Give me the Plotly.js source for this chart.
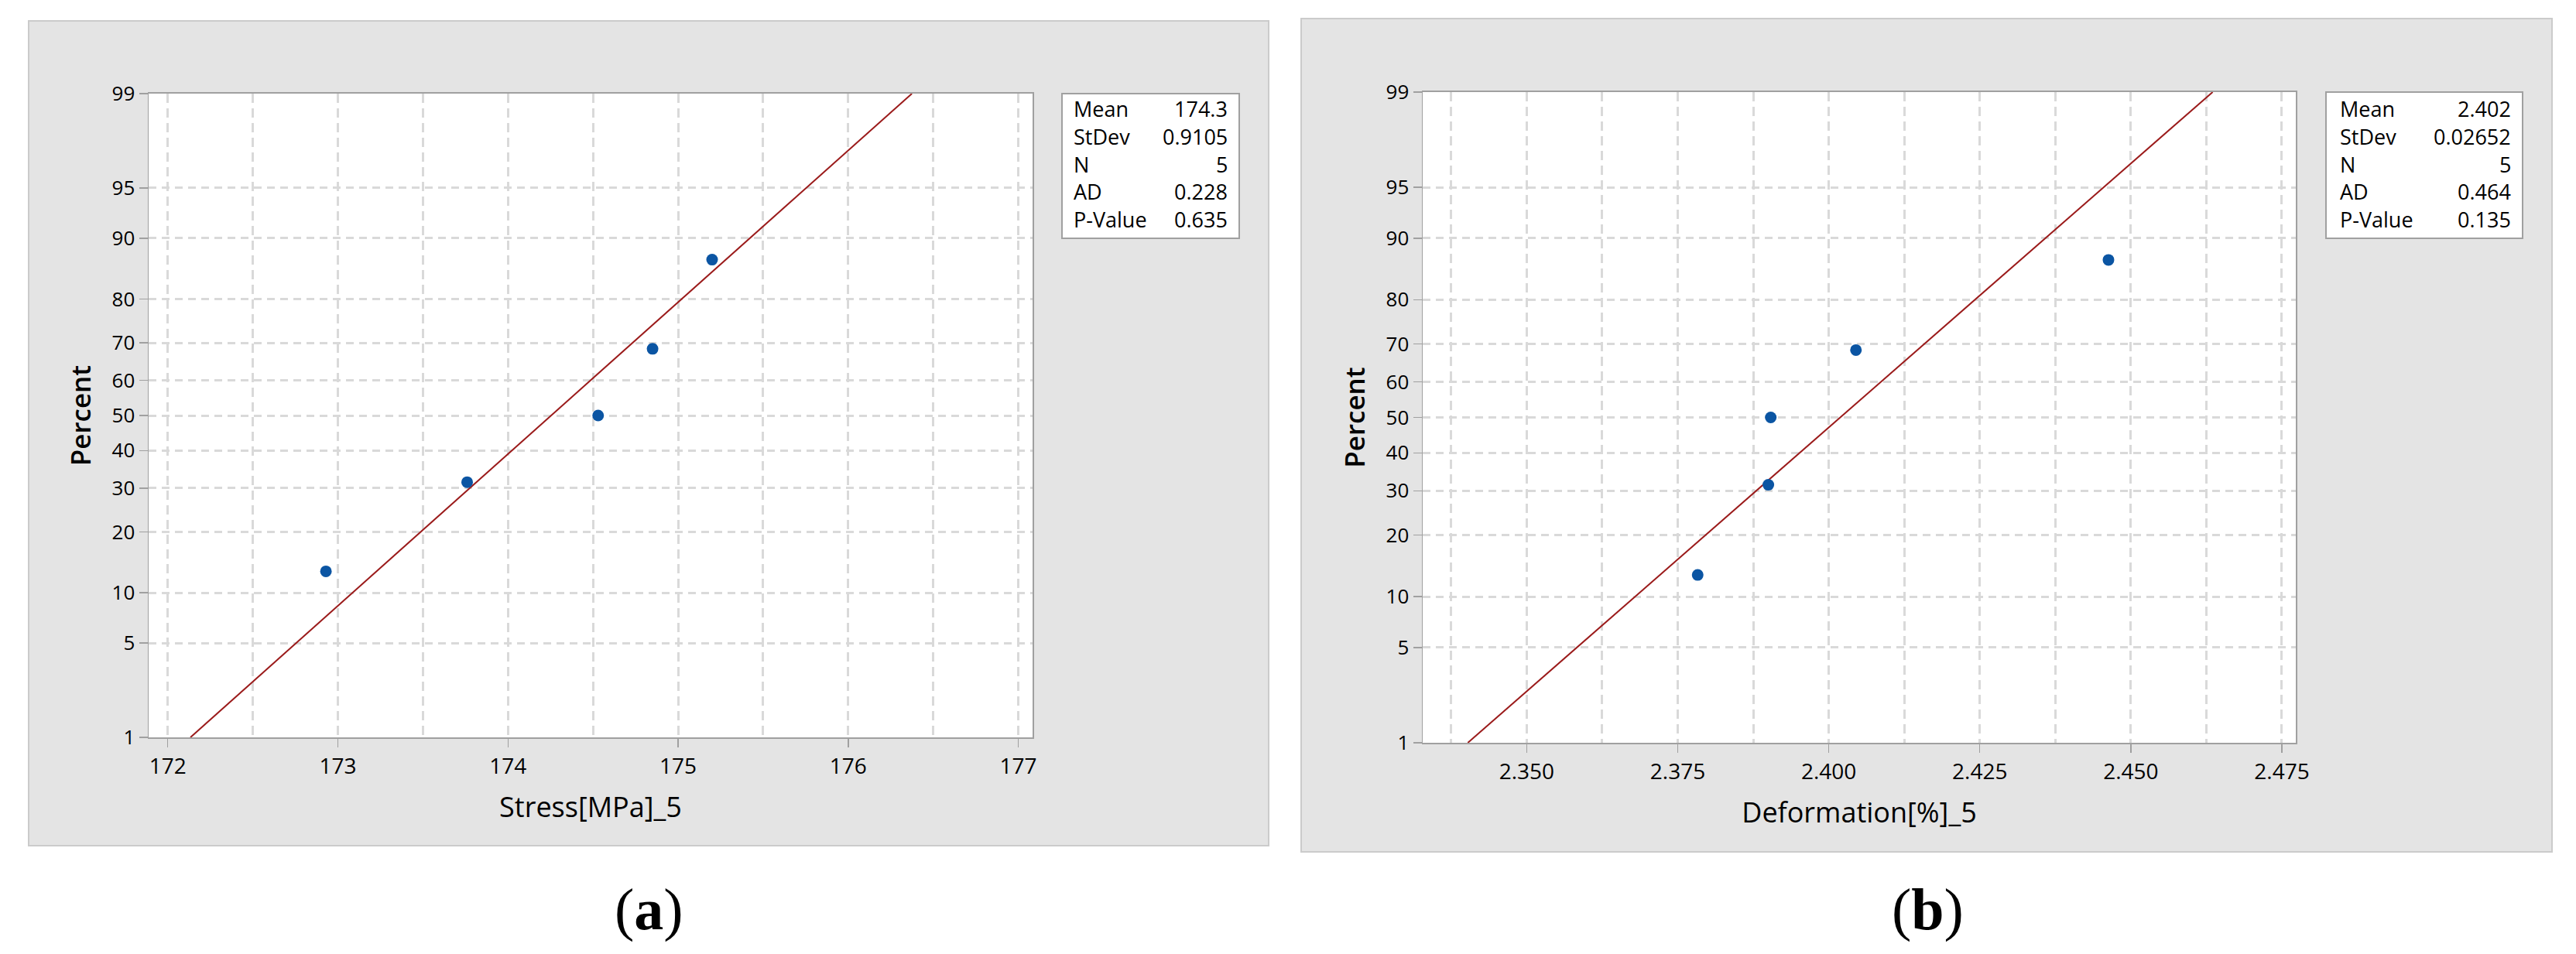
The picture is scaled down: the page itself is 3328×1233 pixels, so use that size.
<!DOCTYPE html>
<html>
<head>
<meta charset="utf-8">
<script src="https://cdn.plot.ly/plotly-3.0.1.min.js"></script>
<style>
  html, body { margin: 0; padding: 0; background: #fff; }
  #chart { width: 3328px; height: 1233px; }
</style>
</head>
<body>
<div id="chart"></div>
<script>
// median-rank plotting positions, same for both samples (N = 5)
const percentPos = [13.0, 31.5, 50.0, 68.5, 87.0];
const stressVals = [172.93, 173.76, 174.53, 174.85, 175.20];
const deformVals = [2.3783, 2.3900, 2.3904, 2.4045, 2.4463];

const pctTicks = [1, 5, 10, 20, 30, 40, 50, 60, 70, 80, 90, 95, 99];
const fitPct = [1, 99];

const statLabels = ['Mean', 'StDev', 'N', 'AD', 'P-Value'];
const stressStats = ['174.3', '0.9105', '5', '0.228', '0.635'];
const deformStats = ['2.402', '0.02652', '5', '0.464', '0.135'];

const W = 3328, H = 1233;
const FONT = '"Open Sans", "Noto Sans", sans-serif';
const GRID = '#d9d9d9';
const AXIS = '#a0a0a0';

// inverse standard normal cdf (Acklam), used for the probability scale
function normInv (p) {
  const a = [-3.969683028665376e+01, 2.209460984245205e+02, -2.759285104469687e+02,
    1.383577518672690e+02, -3.066479806614716e+01, 2.506628277459239e+00];
  const b = [-5.447609879822406e+01, 1.615858368580409e+02, -1.556989798598866e+02,
    6.680131188771972e+01, -1.328068155288572e+01];
  const c = [-7.784894002430293e-03, -3.223964580411365e-01, -2.400758277161838e+00,
    -2.549671010229307e+00, 4.374664141464968e+00, 2.938163982698783e+00];
  const d = [7.784695709041462e-03, 3.224671290700398e-01, 2.445134137142996e+00,
    3.754408661907416e+00];
  const pl = 0.02425;
  let q, r;
  if (p < pl) {
    q = Math.sqrt(-2 * Math.log(p));
    return (((((c[0]*q+c[1])*q+c[2])*q+c[3])*q+c[4])*q+c[5]) / ((((d[0]*q+d[1])*q+d[2])*q+d[3])*q+1);
  }
  if (p > 1 - pl) {
    q = Math.sqrt(-2 * Math.log(1 - p));
    return -(((((c[0]*q+c[1])*q+c[2])*q+c[3])*q+c[4])*q+c[5]) / ((((d[0]*q+d[1])*q+d[2])*q+d[3])*q+1);
  }
  q = p - 0.5; r = q * q;
  return (((((a[0]*r+a[1])*r+a[2])*r+a[3])*r+a[4])*r+a[5])*q / (((((b[0]*r+b[1])*r+b[2])*r+b[3])*r+b[4])*r+1);
}

const z = (pct) => normInv(pct / 100);

function meanOf (v) { return v.reduce((s, x) => s + x, 0) / v.length; }
function sdOf (v) {
  const m = meanOf(v);
  return Math.sqrt(v.reduce((s, x) => s + (x - m) * (x - m), 0) / (v.length - 1));
}

// pixel helpers (layout only)
const px = (x) => x / W;
const py = (y) => 1 - y / H;

function makeTraces (vals, xa, ya) {
  const m = meanOf(vals);
  const s = sdOf(vals);
  return [
    {
      type: 'scatter', mode: 'lines',
      x: fitPct.map((p) => m + s * z(p)),
      y: fitPct.map(z),
      xaxis: xa, yaxis: ya,
      line: { color: '#9b1b1b', width: 2 },
      hoverinfo: 'skip'
    },
    {
      type: 'scatter', mode: 'markers',
      x: vals,
      y: percentPos.map(z),
      xaxis: xa, yaxis: ya,
      marker: { color: '#0b55a3', size: 15 }
    }
  ];
}

function xAxis (domain, range, dtick, minor, fmt, title) {
  return {
    domain, range, dtick, tick0: range[0] < 10 ? 2.35 : 172,
    tickformat: fmt,
    showgrid: true, gridcolor: GRID, gridwidth: 3, griddash: '12px,7px',
    minor: { dtick: minor, showgrid: true, gridcolor: GRID, gridwidth: 3, griddash: '12px,7px', ticks: '' },
    zeroline: false,
    showline: true, mirror: true, linecolor: AXIS, linewidth: 2,
    ticks: 'outside', ticklen: 11, tickwidth: 1.5, tickcolor: AXIS,
    tickfont: { family: FONT, size: 28, color: '#000' },
    title: { text: title, font: { family: FONT, size: 36, color: '#000' }, standoff: 24 }
  };
}

function yAxis (domain, anchor) {
  return {
    domain, anchor,
    range: [z(1), z(99)],
    tickmode: 'array',
    tickvals: pctTicks.map(z),
    ticktext: pctTicks.map(String),
    showgrid: true, gridcolor: GRID, gridwidth: 3, griddash: '10px,7px',
    zeroline: false,
    showline: true, mirror: true, linecolor: AXIS, linewidth: 1.5,
    ticks: 'outside', ticklen: 11, tickwidth: 1.5, tickcolor: AXIS,
    tickfont: { family: FONT, size: 26, color: '#000' },
    title: { text: 'Percent', font: { family: FONT, size: 35, color: '#000', weight: 600 }, standoff: 16 }
  };
}

// grey panel frames, white plot areas, stats boxes
const frame = (x0, x1, y0, y1, fill, line, layer) => ({
  type: 'rect', xref: 'paper', yref: 'paper', layer,
  x0: px(x0), x1: px(x1), y0: py(y1), y1: py(y0),
  fillcolor: fill, line
});
const shapes = [
  frame(37, 1639, 27, 1093, '#e4e4e4', { color: '#cbcbcb', width: 2 }, 'below'),
  frame(1681, 3297, 24, 1101, '#e4e4e4', { color: '#cbcbcb', width: 2 }, 'below'),
  frame(192, 1334, 121, 953, '#fff', { width: 0 }, 'below'),
  frame(1838, 2966, 119, 960, '#fff', { width: 0 }, 'below'),
  frame(1372, 1601, 121, 308, '#fff', { color: AXIS, width: 2 }, 'above'),
  frame(3005, 3259, 119, 308, '#fff', { color: AXIS, width: 2 }, 'above')
];

const annotations = [];
function statsBox (values, left, right, top) {
  statLabels.forEach((lab, i) => {
    const y = py(top + 35.6 * i);
    annotations.push({ xref: 'paper', yref: 'paper', x: px(left), y, xanchor: 'left', yanchor: 'middle',
      text: lab, showarrow: false, font: { family: FONT, size: 27, color: '#000' } });
    annotations.push({ xref: 'paper', yref: 'paper', x: px(right), y, xanchor: 'right', yanchor: 'middle',
      text: values[i], showarrow: false, font: { family: FONT, size: 27, color: '#000' } });
  });
}
statsBox(stressStats, 1385, 1588, 141);
statsBox(deformStats, 3021, 3246, 141);

annotations.push(
  { xref: 'paper', yref: 'paper', x: px(838), y: py(1175), xanchor: 'center', yanchor: 'middle',
    text: '(<b>a</b>)', showarrow: false, font: { family: '"Liberation Serif", serif', size: 76, color: '#000' } },
  { xref: 'paper', yref: 'paper', x: px(2490), y: py(1175), xanchor: 'center', yanchor: 'middle',
    text: '(<b>b</b>)', showarrow: false, font: { family: '"Liberation Serif", serif', size: 76, color: '#000' } }
);

const data = [
  ...makeTraces(stressVals, 'x', 'y'),
  ...makeTraces(deformVals, 'x2', 'y2')
];

const layout = {
  width: W, height: H,
  margin: { l: 0, r: 0, t: 0, b: 0 },
  paper_bgcolor: '#fff',
  plot_bgcolor: 'rgba(0,0,0,0)',
  showlegend: false,
  font: { family: FONT, color: '#000' },
  xaxis: xAxis([px(192), px(1334)], [171.8876, 177.0838], 1, 0.5, 'd', 'Stress[MPa]_5'),
  yaxis: yAxis([py(953), py(121)], 'x'),
  xaxis2: Object.assign(xAxis([px(1838), px(2966)], [2.33278, 2.47731], 0.025, 0.0125, '.3f', 'Deformation[%]_5'), { anchor: 'y2' }),
  yaxis2: yAxis([py(960), py(119)], 'x2'),
  shapes,
  annotations
};

Plotly.newPlot('chart', data, layout, { displayModeBar: false, staticPlot: true });
</script>
</body>
</html>
